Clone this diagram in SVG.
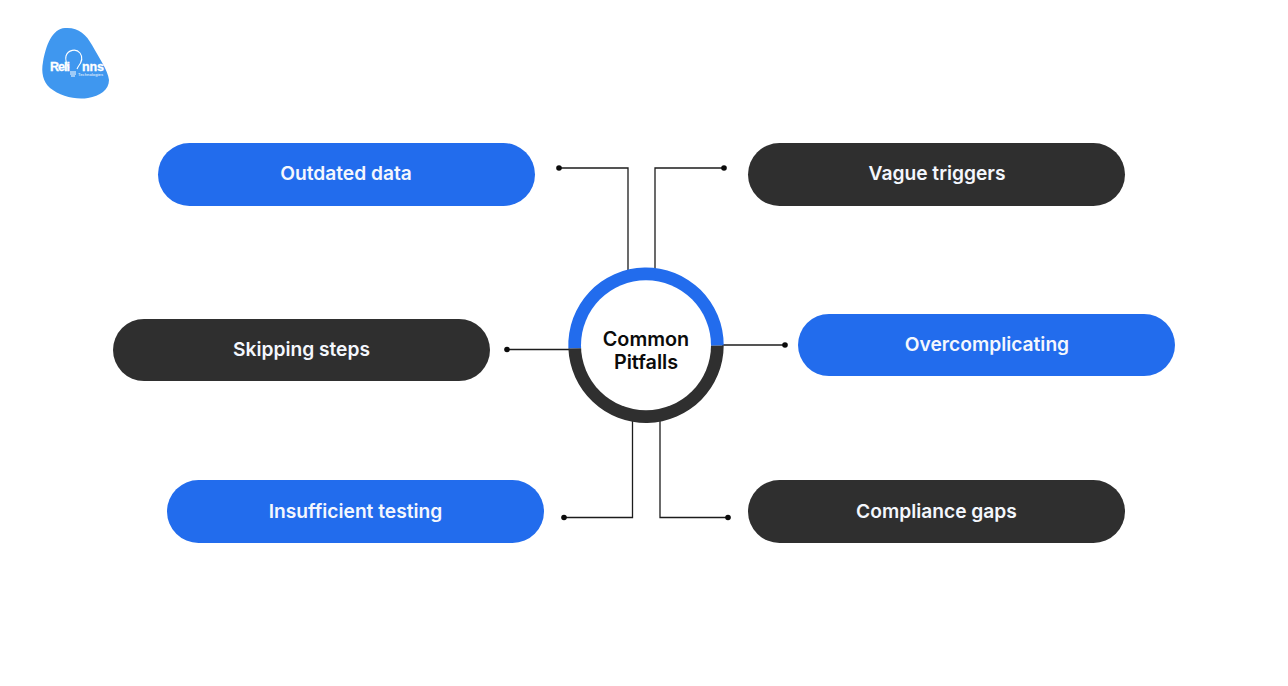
<svg xmlns="http://www.w3.org/2000/svg" width="1288" height="686" viewBox="0 0 1288 686">
<style>
.blue{fill:#226ced}
.dark{fill:#2f2f2f}
.lbl{font-family:Inter,"Liberation Sans",sans-serif;font-weight:600;font-size:19.2px;fill:#f4f7fd;text-anchor:middle}
.ctr{font-family:Inter,"Liberation Sans",sans-serif;font-weight:600;font-size:19.8px;fill:#0b0b0b;text-anchor:middle}
.wire{fill:none;stroke:#1c1c1c;stroke-width:1.3}
.dot{fill:#0b0b0b}
.lg{font-family:"Liberation Sans",sans-serif;font-weight:700;font-size:12.5px;fill:#fff;stroke:#fff;stroke-width:.3}
</style>
<rect width="1288" height="686" fill="#fff"/>
<g id="logo">
<path d="M65 28C78 27 86 34 92 45C99 58 108 70 109 80C109 90 100 96 88 98C75 100 60 96 50 88C43 82 41 72 43 62C46 45 52 29 65 28Z" fill="#3f97ef"/>
<path d="M69 68C66 63 65 60 66 56C68 50 76 48 80 53C83 57 82 62 78 67L77 69" fill="none" stroke="#fff" stroke-width="1.1"/>
<text class="lg" x="50" y="70.500" textLength="20">Reli</text>
<text class="lg" x="82" y="70.500" textLength="22">nns</text>
<path d="M70 72h6M70 74h6M71 76h4" stroke="#fff" stroke-width="1"/>
<text x="78" y="75.500" font-family="'Liberation Sans',sans-serif" font-size="4" fill="#fff" textLength="25">Technologies</text>
</g>
<g id="connectors">
<path class="wire" d="M559 168H628V270"/><circle class="dot" cx="559" cy="168" r="2.800"/>
<path class="wire" d="M724 168H655V270"/><circle class="dot" cx="724" cy="168" r="2.800"/>
<path class="wire" d="M507 349.500H570"/><circle class="dot" cx="507" cy="349.500" r="2.800"/>
<path class="wire" d="M785 345H722"/><circle class="dot" cx="785" cy="345" r="2.800"/>
<path class="wire" d="M564 517.500H632.500V420"/><circle class="dot" cx="564" cy="517.500" r="2.800"/>
<path class="wire" d="M728 517.500H660V420"/><circle class="dot" cx="728" cy="517.500" r="2.800"/>
</g>
<g id="center">
<path class="blue" d="M568.370 348.500A77.700 77.700 0 1 1 723.700 345.500Z"/>
<path class="dark" d="M568.370 348.500A77.700 77.700 0 0 0 723.700 345.500Z"/>
<circle cx="646" cy="345.300" r="65" fill="#fff"/>
<text class="ctr" x="646" y="346">Common</text>
<text class="ctr" x="646" y="369">Pitfalls</text>
</g>
<g id="outdated"><rect class="blue" x="158" y="143" width="377" height="63" rx="31.500"/><text class="lbl" x="346" y="180">Outdated data</text></g>
<g id="vague"><rect class="dark" x="748" y="143" width="377" height="63" rx="31.500"/><text class="lbl" x="937" y="180">Vague triggers</text></g>
<g id="skipping"><rect class="dark" x="113" y="319" width="377" height="62" rx="31"/><text class="lbl" x="301.500" y="356">Skipping steps</text></g>
<g id="overcomplicating"><rect class="blue" x="798" y="314" width="377" height="62" rx="31"/><text class="lbl" x="987" y="351">Overcomplicating</text></g>
<g id="insufficient"><rect class="blue" x="167" y="480" width="377" height="63" rx="31.500"/><text class="lbl" x="355.500" y="518">Insufficient testing</text></g>
<g id="compliance"><rect class="dark" x="748" y="480" width="377" height="63" rx="31.500"/><text class="lbl" x="936.500" y="518">Compliance gaps</text></g>
</svg>
